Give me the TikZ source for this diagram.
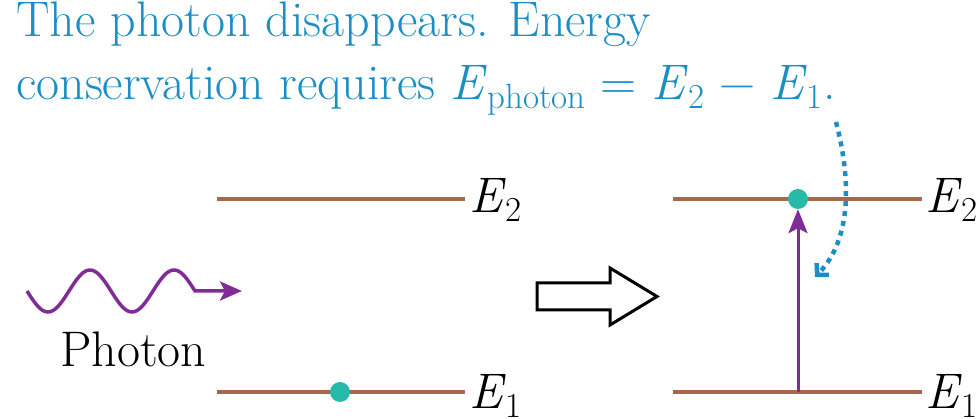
\documentclass[tikz,border=0pt]{standalone}
\usepackage{fontspec}
\usetikzlibrary{positioning, arrows.meta}
\definecolor{capblue}{RGB}{27,143,197}
\definecolor{lvlbrown}{RGB}{168,104,80}
\definecolor{dotteal}{RGB}{40,186,168}
\definecolor{phpurple}{RGB}{128,44,150}
\newcommand{\lvsub}[1]{\raisebox{-0.17em}{\fontsize{35}{35}\selectfont #1}}
\newcommand{\lvE}[1]{\textit{E}\lvsub{#1}}

\begin{document}
\begin{tikzpicture}[
  x=1pt, y=1pt,
  txt/.style={inner sep=0pt, anchor=base west,
              font=\fontsize{50}{63}\selectfont},
  captxt/.style={txt, text=capblue},
  lvl/.style={draw=lvlbrown, line width=4.5pt},
  elec/.style={circle, fill=dotteal, inner sep=0pt, minimum size=20pt},
  phot/.style={draw=phpurple, line width=3.5pt,
               -{Stealth[length=22pt, width=19pt, inset=5pt]}},
  arr/.style={draw=phpurple, line width=3pt,
              -{Stealth[length=24pt, width=19pt, inset=5pt]}},
  hint/.style={draw=capblue, line width=4.5pt, dash pattern=on 5pt off 5pt,
               -{Straight Barb[length=8pt, width=17pt]}},
  hollow/.style={draw, line width=3pt, fill=white, line join=miter}
]
  \useasboundingbox (0,0) rectangle (980,419);

  \node[captxt] (cap1) at (16,382) {The photon disappears. Energy};
  \node[captxt] (cap2) at (16,319) {conservation requires
    \lvE{photon} = \lvE{2} − \lvE{1}.};

  \coordinate (upL0) at (217,220);
  \coordinate (upL1) at (465,220);
  \coordinate (loL0) at (217,27);
  \coordinate (loL1) at (465,27);
  \coordinate (upR0) at (673,220);
  \coordinate (upR1) at (922,220);
  \coordinate (loR0) at (673,27);
  \coordinate (loR1) at (922,27);

  \draw[lvl] (upL0) -- (upL1);
  \draw[lvl] (loL0) -- (loL1);
  \draw[lvl] (upR0) -- (upR1);
  \draw[lvl] (loR0) -- (loR1);

  \node[txt] (labL2) at (469,206) {\lvE{2}};
  \node[txt] (labL1) at (469,10) {\lvE{1}};
  \node[txt] (labR2) at (925,206) {\lvE{2}};
  \node[txt] (labR1) at (925,10) {\lvE{1}};

  \node[elec] (elecL) at (340,27) {};
  \node[elec] (elecR) at (798,220) {};

  \node[txt] (photonLab) at (60,52) {Photon};
  \coordinate (waveTip) at (242,128);
  \draw[phot] plot[domain=0:168, samples=90, smooth]
    ({27+\x}, {128-21*sin(\x/84*360)}) -- (waveTip);

  \draw[hollow] (537,109) -- (610,109) -- (610,94) -- (657,122.5)
    -- (610,151) -- (610,136) -- (537,136) -- cycle;

  \coordinate (absorb) at (798,27);
  \draw[arr] (absorb) -- (elecR.south);

  \coordinate (hintStart) at (836,297);
  \coordinate (hintEnd) at (815,142);
  \draw[hint] (hintStart) .. controls (851,240) and (852,180) .. (hintEnd);
\end{tikzpicture}
\end{document}
